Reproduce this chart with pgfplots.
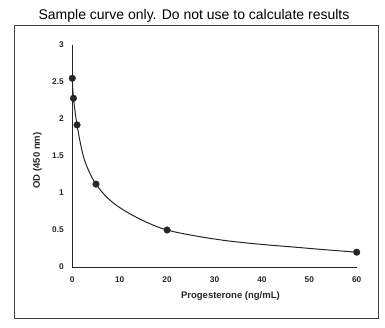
\documentclass[border=0pt]{standalone}
\usepackage{pgfplots}
\pgfplotsset{compat=1.18}
\usepackage{fontspec}
\setmainfont{Liberation Sans}
\begin{document}
\begin{tikzpicture}[x=1pt,y=1pt]
\path (0,0) rectangle (385,328);
\draw[black!75, line width=0.9pt] (14,10) rectangle (378,303);
\node[anchor=base, font=\fontsize{14}{16}\selectfont] at (194,308) {Sample curve only. Do not use to calculate results};
\begin{axis}[
  at={(72.3pt,61pt)}, anchor=south west,
  scale only axis, width=284.4pt, height=222pt,
  xmin=0, xmax=60, ymin=0, ymax=3,
  axis x line=bottom, axis y line=left,
  axis line style={-, line width=0.9pt, black!85},
  xtick={0,10,20,30,40,50,60},
  ytick={0,0.5,1,1.5,2,2.5,3},
  major tick length=0pt,
  /pgf/number format/assume math mode=true,
  tick label style={font=\bfseries\fontsize{8.3}{9}\selectfont, black!85},
  xticklabel style={yshift=-6pt},
  yticklabel style={xshift=-5pt},
  xlabel={Progesterone (ng/mL)},
  ylabel={OD (450 nm)},
  label style={font=\bfseries\fontsize{9.5}{11}\selectfont, black!85},
  xlabel style={at={(axis description cs:0.556,0)}, anchor=center, yshift=-29pt},
  ylabel style={at={(axis description cs:-0.123,0.48)}, anchor=center},
  clip=false,
]
\addplot[black!85, line width=1pt, smooth, tension=0.6, no marks] coordinates {
  (0,2.55) (0.25,2.28) (1,1.92) (2.2,1.53) (3.4,1.31) (5,1.12) (7.5,0.93) (10.8,0.77)
  (15.5,0.61) (20,0.50) (26,0.42) (32.6,0.355) (40,0.305) (46.6,0.27) (53,0.235) (60,0.20)
};
\addplot[only marks, mark=*, mark size=3.3pt, black!85] coordinates {
  (0,2.55) (0.25,2.28) (1,1.92) (5,1.12) (20,0.50) (60,0.20)
};
\end{axis}
\end{tikzpicture}
\end{document}
